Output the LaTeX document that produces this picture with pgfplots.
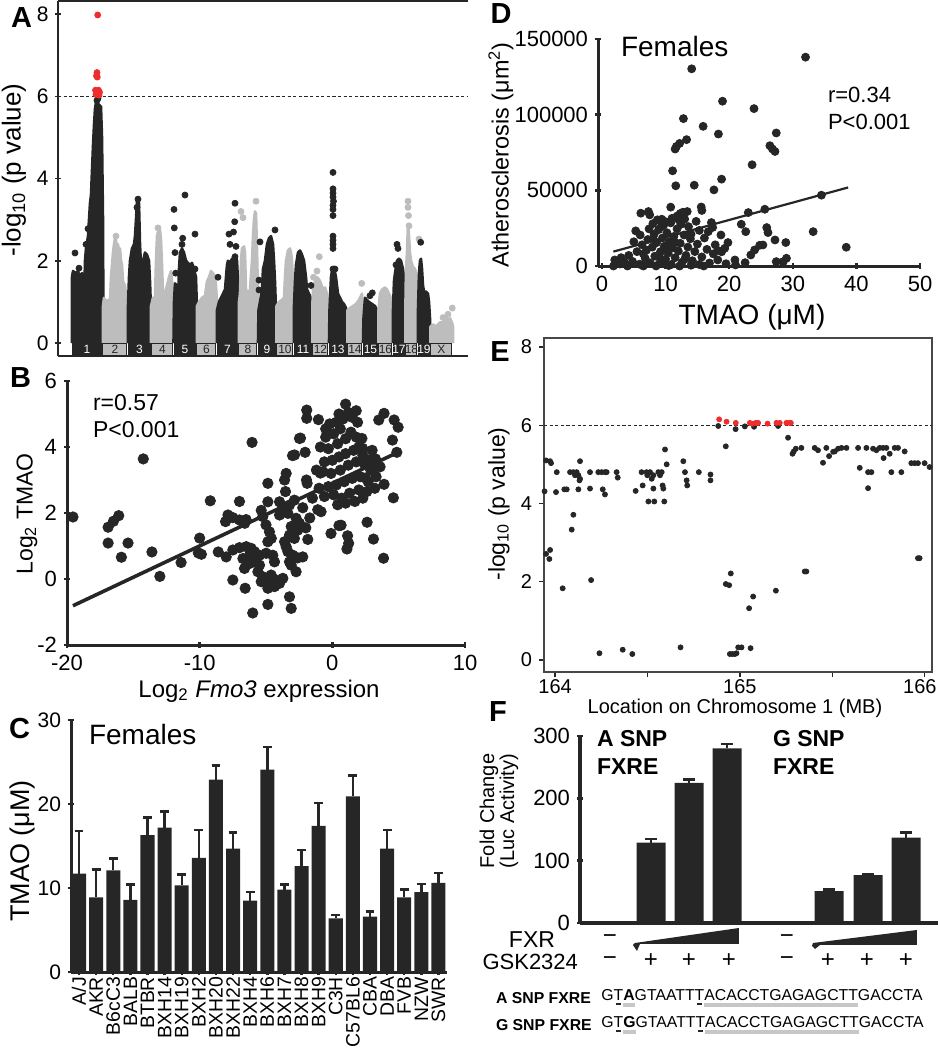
\documentclass[border=0pt]{standalone}
\usepackage{fontspec}
\setmainfont{Liberation Sans}
\usepackage{pgfplots}
\pgfplotsset{compat=1.18}
\definecolor{dk}{HTML}{262626}
\definecolor{lg}{HTML}{BDBDBD}
\definecolor{rd}{HTML}{EE2E2E}
\newcommand\fs[1]{\fontsize{#1bp}{#1bp}\selectfont}
\newcommand\bk[1]{\setbox0\hbox{#1}\rlap{\hbox to\wd0{\hss\color{dk}\rule[-2.4bp]{2.6bp}{1.1bp}\hss}}\box0}
\newcommand\gs[1]{\setbox0\hbox{#1}\rlap{\color{black!22}\rule[-3.3bp]{\wd0}{1.7bp}}\box0}
\pgfplotsset{
  every axis/.append style={scale only axis, anchor=south west, /pgf/number format/assume math mode=true, tick align=outside},
  thickax/.style={axis lines=left, axis line style={-, line width=1.5bp, draw=dk}, tick style={line width=1.2bp, draw=dk}, major tick length=3bp},
  dkchr/.style={fill=dk, draw=dk, line width=1.3bp, line join=round},
  lgchr/.style={fill=lg, draw=lg, line width=1.3bp, line join=round},
}
\begin{document}
\begin{tikzpicture}
%================ A
\begin{axis}[at={(29bp,-178bp)}, width=205bp, height=177.5bp,
  xmin=58, xmax=468, ymin=-0.316, ymax=8.32,
  axis lines=left, axis line style={-, line width=0.7bp, draw=dk},
  tick style={line width=0.7bp, draw=dk}, major tick length=2.5bp,
  xtick=\empty, ytick={0,2,4,6,8}, yticklabel style={font=\fs{10.5}}, clip=false]
\addplot[dkchr] coordinates {(72,0) (72,1.6) (73,1.75) (76,1.7) (78,1.75) (80,1.6) (82,1.7) (83,1.5) (84,0.9) (85,2.0) (86,2.3) (88,2.6) (89,3.0) (90,3.4) (91,3.6) (92,4.2) (93,4.8) (94,5.3) (95,5.7) (96,5.85) (99,5.8) (101,5.75) (102,5.0) (103,3.0) (103.5,0)};
\addplot[lgchr] coordinates {(103,0) (103,0.9) (104,1.1) (106,1.0) (108,1.05) (110,1.0) (111,1.6) (112,1.9) (113,2.2) (114,2.4) (115,2.55) (116,2.5) (117,2.3) (118,2.4) (119,2.2) (120,2.3) (121,2.0) (122,1.9) (123,1.5) (125,1.4) (126,1.2) (128,1.0) (128,0)};
\addplot[dkchr] coordinates {(128,0) (128,0.9) (129,1.6) (130,2.0) (132,2.3) (134,2.4) (135,2.6) (136,3.0) (137,3.45) (138,3.5) (139,3.4) (140,2.4) (141,1.9) (142,1.6) (143,2.0) (145,2.2) (147,2.15) (149,2.0) (150,1.5) (151,0.8) (151,0)};
\addplot[lgchr] coordinates {(151,0) (151,0.9) (153,1.1) (155,1.1) (156,2.0) (157,2.6) (158,2.7) (160,2.75) (161,2.5) (162,1.9) (163,1.2) (165,1.2) (167,1.4) (169,1.6) (171,1.75) (172,1.5) (174,1.1) (174,0)};
\addplot[dkchr] coordinates {(173.5,0) (174,1.0) (175,1.45) (177,1.4) (178,1.0) (179,1.8) (180,2.2) (182,2.3) (184,2.2) (186,2.0) (188,1.95) (190,1.9) (192,1.95) (194,1.8) (196,1.6) (197,0.8) (197,0)};
\addplot[lgchr] coordinates {(197,0) (197,0.9) (199,1.0) (202,1.1) (205,1.15) (207,1.5) (209,1.6) (211,1.75) (213,1.7) (215,1.6) (216,1.4) (217,1.0) (217,0)};
\addplot[dkchr] coordinates {(217,0) (217,0.8) (219,1.0) (221,1.1) (223,1.2) (225,1.3) (227,1.9) (228,2.0) (230,1.95) (232,2.05) (234,2.0) (236,2.1) (237,2.0) (238,1.5) (238.5,0)};
\addplot[lgchr] coordinates {(239,0) (239,1.0) (240,1.2) (241,2.0) (242,2.3) (244,2.35) (245,2.2) (246,1.3) (248,1.2) (250,1.3) (252,2.0) (253,2.6) (254,3.0) (255,3.2) (256,3.15) (257,2.3) (258,1.2) (258,0)};
\addplot[dkchr] coordinates {(258,0) (258.5,0.8) (260,1.0) (262,1.3) (263,1.8) (265,2.0) (267,2.4) (269,2.55) (271,2.6) (273,2.4) (274,2.0) (275,1.5) (276,0.8) (276,0)};
\addplot[lgchr] coordinates {(276.5,0) (276.5,0.9) (279,1.0) (282,1.05) (284,1.1) (285,1.6) (286,2.0) (288,2.25) (290,2.3) (291,2.2) (292,2.0) (293,1.5) (294,1.1) (294,0)};
\addplot[dkchr] coordinates {(294,0) (294,0.9) (295,1.5) (296,1.9) (298,2.2) (300,2.25) (302,2.15) (304,2.0) (306,1.6) (307,1.3) (309,1.2) (311,1.1) (312,0.8) (312,0)};
\addplot[lgchr] coordinates {(312.5,0) (312.5,1.0) (313,1.3) (315,1.5) (317,1.6) (319,1.55) (321,1.45) (323,1.3) (325,1.35) (327,1.2) (329,0.9) (329,0)};
\addplot[dkchr] coordinates {(329,0) (329.5,0.8) (331,1.6) (332,1.75) (334,1.85) (336,1.6) (338,1.2) (340,1.1) (342,1.0) (344,0.95) (346,0.85) (347,0.7) (347,0)};
\addplot[lgchr] coordinates {(347.5,0) (347.5,0.8) (350,0.85) (353,0.9) (356,0.95) (359,1.05) (361,1.15) (362,1.2) (363,0.7) (363,0)};
\addplot[dkchr] coordinates {(363,0) (363.5,0.6) (365,1.1) (367,1.05) (369,1.0) (372,0.95) (375,0.9) (377,0.8) (378,0.5) (378,0)};
\addplot[lgchr] coordinates {(378.5,0) (378.5,0.8) (380,1.2) (382,1.3) (385,1.35) (387,1.3) (390,1.15) (392,1.0) (393,0.9) (393,0)};
\addplot[dkchr] coordinates {(393,0) (393,0.8) (394,1.5) (395,1.7) (397,2.0) (399,2.05) (401,2.0) (403,1.8) (404,1.6) (405,0.9) (405,0)};
\addplot[lgchr] coordinates {(405.5,0) (405.5,1.0) (406,1.8) (407,2.2) (408,2.9) (409,2.6) (410,2.2) (411,2.0) (413,1.85) (415,1.8) (417,1.6) (418,1.2) (418,0)};
\addplot[dkchr] coordinates {(418,0) (418,0.8) (419,1.7) (420,2.0) (421,2.05) (422,1.8) (423,1.4) (424,1.25) (426,1.25) (428,1.2) (429,1.0) (430,0.6) (430,0)};
\addplot[lgchr] coordinates {(430.5,0) (430.5,0.4) (433,0.45) (436,0.4) (440,0.5) (444,0.5) (447,0.55) (450,0.6) (452,0.5) (453,0.4) (453,0)};
% outlying points
\addplot[only marks, mark=*, mark size=1.5bp, color=lg] coordinates {(241,3.2) (243,3.05) (256,3.45) (319.3,2.1) (313.5,1.6) (317,1.75) (361.7,1.45) (408,3.45) (408,3.3) (408.5,3.1) (409,2.85) (419,2.53) (452.3,0.85) (445,0.6) (443,0.62) (448,0.7) (116,2.6) (158,2.8)};
\addplot[only marks, mark=*, mark size=1.5bp, color=dk] coordinates {(75,2.19) (79,1.82) (88,2.78) (86,2.4) (98,5.95) (97,5.9) (174,3.25) (174.3,2.8) (175,2.2) (175.7,1.7) (185,3.6) (182.7,2.55) (195,2.65) (195,1.8) (182,2.4) (235,3.4) (234.7,2.95) (233.5,2.7) (229,2.65) (230,2.4) (235,2.1) (236,2.35) (218,1.6) (260,2.46) (259,1.53) (259,1.29) (275,2.75) (311,1.4) (333,4.15) (333,3.75) (333,3.65) (333,3.55) (333.5,3.45) (333,3.35) (333,3.25) (333,3.1) (333,2.6) (333,2.5) (333,2.4) (333,2.3) (333,1.8) (335,1.8) (372.3,1.22) (370,1.15) (397,2.4) (398,2.3) (396,1.9) (420.7,2.45) (138,3.5) (137,3.3)};
\addplot[dk, line width=0.7bp, dash pattern=on 1.6bp off 1.2bp] coordinates {(58,6) (468,6)};
\addplot[only marks, mark=*, mark size=1.5bp, color=rd] coordinates {(97.7,7.98) (97,6.58) (97.3,6.47) (96.5,6.5) (95.5,6.15) (96.5,6.12) (97.5,6.1) (98.5,6.15) (99.5,6.1) (96,6.05) (99,6.03)};
\draw[dk, line width=0.7bp] (axis cs:58,8.32) -- (axis cs:468,8.32);
\end{axis}
%================ B
\begin{axis}[thickax, at={(33.5bp,-322.5bp)}, width=199bp, height=132bp,
  xmin=-20, xmax=10, ymin=-2, ymax=6, xtick={-20,-10,0,10}, ytick={-2,0,2,4,6},
  ticklabel style={font=\fs{11}}, clip=false]
\addplot[only marks, mark=*, mark size=2.6bp, color=dk] coordinates {
(-19.55,1.88) (-16.9,1.57) (-16.5,1.75) (-16.1,1.92) (-16.9,1.09) (-15.9,0.66) (-15.4,1.09)
(-14.25,3.64) (-13.6,0.82) (-13.0,0.08) (-11.4,0.5) (-10.0,1.24) (-10.1,0.79) (-9.2,2.37) (-9.87,0.75)
(-8.6,0.82) (-8.0,0.67) (-7.5,0.88) (-7.0,0.95) (-6.49,0.98) (-6.12,0.93) (-5.87,0.83) (-5.49,0.72) (-6.24,0.72) (-6.74,0.62)
(-7.87,1.94) (-7.5,1.86) (-7.0,1.79) (-8.05,1.74) (-6.6,1.69) (-7.0,2.35) (-6.5,1.8) (-6.05,4.14)
(-7.5,-0.03) (-6.57,-0.28) (-6.0,-1.03) (-4.86,-0.77) (-3.23,-0.54) (-3.1,-0.89)
(-6.62,0.32) (-6.24,0.47) (-5.87,0.52) (-5.49,0.42) (-4.99,0.78) (-4.49,0.72) (-4.36,0.52)
(-5.61,0.22) (-5.24,0.07) (-4.99,-0.08) (-4.61,-0.18) (-4.36,-0.23) (-3.98,-0.13) (-3.73,0.02) (-5.36,-0.08) (-4.86,-0.28) (-4.24,-0.03) (-4.61,0.12)
(-5.36,2.08) (-5.24,1.89) (-5.0,1.64) (-4.74,1.43) (-4.86,1.13) (-4.6,1.23)
(-3.98,2.34) (-3.73,2.19) (-3.23,2.24) (-2.86,2.39) (-3.98,1.94) (-3.35,1.99) (-2.73,1.84) (-3.1,1.59) (-2.61,1.48) (-2.48,1.69) (-3.6,1.13) (-3.23,1.33) (-2.86,1.23) (-3.48,0.98)
(-2.23,2.16) (-1.85,1.2) (-2.0,1.55) (-1.7,1.85)
(-3.35,0.83) (-2.98,0.72) (-2.61,0.64) (-2.23,0.67) (-3.23,0.52) (-2.73,0.22) (-3.1,0.42)
(-4.86,2.9) (-4.86,2.34) (-3.6,3.0) (-3.48,3.2) (-3.53,2.65)
(-1.9,2.9) (-1.95,3.0) (-1.1,2.1) (-0.85,2.04)
(-3.0,3.74) (-2.4,4.27) (-2.05,3.84) (-2.85,3.76) (-2.48,4.26)
(-0.9,3.21) (-1.93,5.12) (-1.93,4.87) (-1.05,4.83)
(-0.1,1.38) (0.5,1.62) (0.66,1.63) (1.15,1.31) (1.23,1.08) (1.1,0.91) (1.0,5.30)
(2.62,1.72) (3.1,1.21) (3.86,0.63)
(3.9,5.02) (3.5,4.82) (4.66,4.82) (4.96,4.6) (4.53,4.21) (4.86,3.84) (3.9,2.87) (4.6,2.46) (2.23,4.26) (2.28,3.96) (3.1,3.36) (3.25,3.64) (2.5,3.06)
(-0.2,4.7) (0.3,4.75) (0.8,4.85) (1.5,4.9) (1.9,4.75) (0.6,4.55) (0.1,4.4) (-0.5,4.3) (-0.9,4.0) (-0.3,3.95) (0.4,4.1) (1.0,4.25) (1.4,4.45) (1.8,4.3) (2.0,4.0) (1.6,3.9) (1.0,3.8) (0.5,3.7) (0.0,3.6) (-0.6,3.55)
(-1.2,3.3) (-0.7,3.25) (-0.1,3.2) (0.6,3.3) (1.2,3.45) (1.8,3.55) (2.4,3.5) (2.9,3.3) (3.3,3.1) (2.7,2.95) (2.1,3.1) (1.5,3.05) (0.9,2.95) (0.3,2.85) (-0.3,2.8) (-1.0,2.75)
(-1.5,2.45) (-0.6,2.5) (0.1,2.55) (0.7,2.45) (1.3,2.6) (2.0,2.7) (2.6,2.65) (3.2,2.75) (1.0,2.3) (0.4,2.25) (1.7,2.35) (2.3,2.45) (3.6,3.4) (1.2,5.05) (0.5,5.0) (1.8,5.1) (-0.5,4.55) (2.3,3.75) (3.0,3.9) (2.8,3.6)};
\addplot[dk, line width=1.8bp] coordinates {(-19.55,-0.81) (5.0,3.85)};
\end{axis}
%================ C
\begin{axis}[thickax, at={(35.5bp,-486bp)}, width=188bp, height=126bp,
  xmin=-0.47, xmax=21.5, ymin=0, ymax=30, ytick={0,10,20,30}, xtick={0,...,21},
  xticklabels={A/J,AKR,B6cC3,BALB,BTBR,BXH14,BXH19,BXH2,BXH20,BXH22,BXH4,BXH6,BXH7,BXH8,BXH9,C3H,C57BL6,CBA,DBA,FVB,NZW,SWR},
  xticklabel style={rotate=90, anchor=east, font=\fs{9.7}, inner xsep=0.8bp}, yticklabel style={font=\fs{10.5}}]
\addplot[ybar, bar width=0.82, fill=dk, draw=none,
  error bars/.cd, y dir=plus, y explicit, error bar style={line width=1.2bp, draw=dk},
  error mark options={rotate=90, mark size=2.2bp, line width=1.2bp, draw=dk}]
  table[x=x, y=y, y error=e] {
x y e
0 11.7 5.1
1 8.9 3.3
2 12.1 1.4
3 8.6 1.8
4 16.3 2.1
5 17.2 1.9
6 10.3 1.3
7 13.6 3.3
8 22.9 1.7
9 14.7 1.9
10 8.5 1.0
11 24.1 2.7
12 9.8 0.6
13 12.6 1.9
14 17.4 2.7
15 6.4 0.4
16 20.9 2.5
17 6.6 0.6
18 14.7 2.2
19 8.9 0.9
20 9.5 1.0
21 10.6 1.2
};
\end{axis}
%================ D
\begin{axis}[thickax, at={(299bp,-133bp)}, width=161bp, height=113.5bp,
  xmin=-0.63, xmax=50, ymin=0, ymax=150000, xtick={0,10,20,30,40,50},
  ytick={0,50000,100000,150000}, yticklabels={0,50000,100000,150000}, scaled y ticks=false,
  ticklabel style={font=\fs{11}}, clip=false]
\addplot[only marks, mark=*, mark size=2bp, color=dk] coordinates {
(14.1,130300) (32.0,138000) (18.95,108900) (23.9,104000) (12.8,97400) (15.9,92300) (18.3,87200) (27.4,87900) (13.3,83500) (12.2,81000) (11.7,79000) (11.5,77300)
(26.4,79500) (26.8,77300) (27.2,75700) (11.1,62900) (23.6,66900) (11.6,53000) (14.5,53400) (18.8,57400) (17.6,50300) (34.5,46800) (10.8,38900) (15.6,39000) (15.7,36700)
(6.1,34900) (7.3,36000) (7.5,33800) (5.3,23200) (9.4,30900) (9.9,29400) (17.2,28700) (23.0,35300) (25.6,37500) (21.9,27600) (22.6,22700) (25.9,25400) (26.1,22100)
(33.2,22700) (18.7,20500) (38.4,12400) (27.2,17200) (28.9,15500) (24.8,13700) (25.3,13900) (24.0,10600) (23.4,7300) (29.0,5100) (28.5,2900) (27.4,2900)
(19.8,15500) (19.3,11700) (18.2,10300) (18.8,9400) (16.7,22700) (22.5,2200) (20.9,4000) (2.0,4000) (2.8,1300) (1.8,0)
(11.8,33000) (12.3,34700) (12.7,35500) (13.4,36000) (12.2,30200) (13.0,31000) (11.0,31500) (8.7,30500) (9.3,26000) (12.1,30500) (12.9,34900)
(3.0,5500) (3.5,2500) (4.2,7000) (4.8,3000) (5.5,9500) (5.9,1200) (6.3,14000) (6.8,5000) (7.0,10500) (7.2,17500) (7.6,2000) (7.9,12500) (8.2,21000) (8.3,6500)
(8.6,15500) (8.9,24000) (9.0,1500) (9.2,9500) (9.5,18500) (9.8,13000) (10.0,4500) (10.2,22000) (10.4,8500) (10.6,16000) (10.9,1000) (11.1,12000) (11.3,19500)
(11.5,5500) (11.8,24500) (12.0,9800) (12.3,15000) (12.6,2500) (12.9,20500) (13.2,7000) (13.5,12500) (13.9,18000) (14.2,3500) (14.6,9500) (15.0,14500) (15.3,23500)
(15.7,6000) (16.1,18500) (16.5,11000) (16.9,2000) (17.4,25500) (17.8,14000) (18.2,4000) (5.0,16000) (6.0,20500) (7.4,24500) (8.0,28000) (9.7,27000) (10.8,28500)
(12.4,27500) (13.6,26000) (14.8,29500) (6.5,0) (8.5,0) (10.5,300) (12.2,0) (14.0,500) (16.0,0) (19.5,1500) (21.0,700) (4.0,0) (9.8,3000) (13.0,4500) (15.3,1000)
(17.5,8000) (2.5,2800) (8.0,18000) (10.0,11000) (11.5,15500) (6.5,8000) (9.0,6000) (14.0,21000)};
\addplot[dk, line width=1.1bp] coordinates {(1.78,9500) (38.7,51900)};
\end{axis}
%================ E
\begin{axis}[at={(272bp,-336bp)}, width=194bp, height=167bp,
  xmin=163.94, xmax=166.04, ymin=-0.31, ymax=8.23,
  axis line style={line width=0.7bp, draw=dk!85}, tick style={line width=0.7bp, draw=dk},
  major tick length=2.5bp, minor tick length=2.5bp, tick pos=left,
  xtick={164,165,166}, xticklabels={164,165,{\makebox[12bp][r]{166}}}, minor xtick={164.5,165.5}, ytick={0,2,4,6,8},
  ticklabel style={font=\fs{10}}, xticklabel style={yshift=2.5bp}, clip=false]
\addplot[dk, line width=0.7bp, dash pattern=on 1.6bp off 1.2bp] coordinates {(163.94,6) (166.04,6)};
\addplot[only marks, mark=*, mark size=1.25bp, color=dk] coordinates {
(163.951,5.10) (163.973,5.08) (163.978,5.03) (163.943,4.31) (163.951,2.71) (163.973,2.81) (163.969,2.58) (164.009,4.80) (164.005,4.29) (164.041,1.83)
(164.050,4.36) (164.063,4.36) (164.081,4.80) (164.099,4.80) (164.108,4.72) (164.117,4.80) (164.126,4.72) (164.132,4.59) (164.135,4.63) (164.090,3.33)
(164.099,3.71) (164.126,4.36) (164.135,5.08) (164.189,4.80) (164.189,4.38) (164.195,2.04) (164.234,4.80) (164.252,4.80) (164.270,4.80) (164.279,4.80)
(164.258,4.36) (164.270,4.23) (164.333,4.80) (164.339,4.66) (164.436,4.32) (164.468,4.80) (164.474,4.46) (164.495,4.80) (164.499,4.72) (164.514,4.80)
(164.505,4.05) (164.523,4.63) (164.532,4.38) (164.532,4.72) (164.537,4.05) (164.559,4.80) (164.568,4.72) (164.577,4.80) (164.582,4.46) (164.586,4.38)
(164.591,4.05) (164.595,5.38) (164.604,5.00) (164.694,5.08) (164.703,4.80) (164.712,4.59) (164.715,4.46) (164.778,4.80) (164.841,4.74) (164.841,4.59)
(164.883,5.98) (164.924,5.46) (164.924,1.94) (164.942,1.91) (164.951,2.21) (164.977,5.90) (165.027,5.97) (165.077,5.96) (165.050,1.32) (165.072,1.62)
(165.195,1.77) (165.207,5.98) (165.261,5.68) (165.285,5.27) (165.292,5.33) (165.303,5.40) (165.333,5.42) (165.351,2.26) (165.360,2.26) (165.405,5.42)
(165.423,5.36) (165.450,5.04) (165.468,5.42) (165.483,5.21) (165.505,5.32) (165.514,5.33) (165.532,5.40) (165.550,5.42) (165.577,5.42) (165.640,5.42)
(165.649,4.91) (165.685,5.42) (165.694,4.80) (165.694,4.39) (165.712,4.80) (165.721,5.40) (165.739,5.36) (165.757,5.42) (165.775,5.42) (165.778,5.16)
(165.793,5.42) (165.811,5.27) (165.820,4.80) (165.838,5.42) (165.856,5.42) (165.874,4.80) (165.892,5.33) (165.928,5.03) (165.946,5.03) (165.964,5.03)
(166.000,5.03) (166.027,4.93) (165.964,2.60) (165.973,2.60)
(164.240,0.17) (164.366,0.26) (164.418,0.15) (164.679,0.32) (164.946,0.15) (164.960,0.15) (164.973,0.15) (164.982,0.17) (164.991,0.32) (165.009,0.32) (165.058,0.30)};
\addplot[only marks, mark=*, mark size=1.25bp, color=rd] coordinates {
(164.888,6.15) (164.928,6.09) (164.978,6.06) (165.054,6.06) (165.068,6.04) (165.086,6.06) (165.099,6.06) (165.150,6.04) (165.198,6.06) (165.216,6.06) (165.252,6.06) (165.267,6.06) (165.276,6.06)};
\end{axis}
%================ F
\begin{axis}[thickax, at={(290bp,-461.5bp)}, width=179bp, height=93.5bp,
  xmin=580, xmax=938, ymin=0, ymax=300, xtick=\empty, ytick={0,100,200,300},
  axis line style={-, line width=1.7bp, draw=dk},
  yticklabel style={font=\fs{11}}, clip=false]
\addplot[ybar, bar width=29, fill=dk, draw=none] coordinates {(613,2.5) (792,2.5)};
\addplot[ybar, bar width=29, fill=dk, draw=none,
  error bars/.cd, y dir=plus, y explicit, error bar style={line width=1.2bp, draw=dk},
  error mark options={rotate=90, mark size=3bp, line width=1.2bp, draw=dk}]
  coordinates {(651,129) +- (0,6) (689,225) +- (0,5) (727,280) +- (0,7) (829,51) +- (0,3) (868,77) +- (0,2) (906,137) +- (0,8)};
\end{axis}
%================ annotations (px units)
\begin{scope}[x=0.5bp, y=-0.5bp]
\foreach \a/\b/\l in {72/102/1,128/151/3,174/196/5,217/238/7,258/276/9,294/312/11,329/347/13,363/378/15,393/405/17,418/430/19}
  {\fill[dk] (\a,343) rectangle (\b,356); \node[white, font=\fs{6}] at ({(\a+\b)/2},349.6) {\l};}
\foreach \a/\b/\l in {102/128/2,151/174/4,196/217/6,238/258/8,276/294/10,312/329/12,347/363/14,378/393/16,405/418/18,430/453/X}
  {\filldraw[fill=lg, draw=dk, line width=0.5bp] (\a+1,343.6) rectangle (\b-1,355.6); \node[dk, font=\fs{6}] at ({(\a+\b)/2},349.6) {\l};}
% panel letters
\node[font=\fs{14.5}\bfseries] at (21.5,18) {A};
\node[font=\fs{14.5}\bfseries] at (20.5,377.5) {B};
\node[font=\fs{14.5}\bfseries] at (19.5,729) {C};
\node[font=\fs{14.5}\bfseries] at (501,14) {D};
\node[font=\fs{14.5}\bfseries] at (500,352) {E};
\node[font=\fs{14.5}\bfseries] at (498,712) {F};
% A
\node[rotate=90, font=\fs{13}] at (14,170) {-log\textsubscript{10} (p value)};
% B
\node[rotate=90, font=\fs{11.5}] at (27,514) {Log\textsubscript{2} TMAO};
\node[font=\fs{12}] at (259,691) {Log\textsubscript{2} \textit{Fmo3} expression};
\node[anchor=west, font=\fs{11.5}] at (86,403) {r=0.57};
\node[anchor=west, font=\fs{11.5}] at (86,430) {P<0.001};
% C
\node[rotate=90, font=\fs{13.5}] at (22.5,851) {TMAO (μM)};
\node[anchor=west, font=\fs{14}] at (82,735) {Females};
% D
\node[rotate=90, font=\fs{11.7}] at (501,155) {Atherosclerosis (μm\textsuperscript{2})};
\node[font=\fs{14}] at (752,317) {TMAO (μM)};
\node[anchor=west, font=\fs{14}] at (614,46) {Females};
\node[anchor=west, font=\fs{11}] at (821,95) {r=0.34};
\node[anchor=west, font=\fs{11}] at (821,122) {P<0.001};
% E
\node[rotate=90, font=\fs{11.5}] at (499,504) {-log\textsubscript{10} (p value)};
\node[font=\fs{10}] at (735,708) {Location on Chromosome 1 (MB)};
% F
\node[rotate=90, font=\fs{10}, align=center] at (499,811) {\fs{10}\baselineskip=10.5bp Fold Change\\(Luc Activity)};
\node[anchor=west, font=\fs{11.5}\bfseries] at (590,739) {A SNP};
\node[anchor=west, font=\fs{11.5}\bfseries] at (590,767) {FXRE};
\node[anchor=west, font=\fs{11.5}\bfseries] at (766,739) {G SNP};
\node[anchor=west, font=\fs{11.5}\bfseries] at (766,767) {FXRE};
\node[anchor=east, font=\fs{11.5}] at (562,940) {FXR};
\node[anchor=east, font=\fs{11}] at (585,962) {GSK2324};
\foreach \x in {610,787} {\node[font=\fs{12}] at (\x,939) {−}; \node[font=\fs{12}] at (\x,961) {−};}
\foreach \x in {651,689,729,828,867,906} {\node[font=\fs{12}] at (\x,961) {+};}
\fill[dk] (635,943) -- (739,928) -- (739,944) -- (640,944) -- (637,951) -- (633,945) -- cycle;
\fill[dk] (813,943) -- (917,930) -- (917,945) -- (820,945) -- (815,949) -- (812,946) -- cycle;
\node[anchor=west, font=\fs{7.9}\bfseries] at (489,998) {A SNP FXRE};
\node[anchor=west, font=\fs{7.9}\bfseries] at (489,1025) {G SNP FXRE};
\node[anchor=west, font=\fs{7.9}, inner sep=0pt] at (601,998) {G\bk{T}\gs{\textbf{A}}GTAATT\bk{T}\gs{ACACCTGAGAGCTT}GACCTA};
\node[anchor=west, font=\fs{7.9}, inner sep=0pt] at (601,1025) {G\bk{T}\gs{\textbf{G}}GTAATT\bk{T}\gs{ACACCTGAGAGCTT}GACCTA};
\end{scope}
\pgfresetboundingbox
\path[use as bounding box] (0,0) rectangle (469bp,-525bp);
\end{tikzpicture}
\end{document}
